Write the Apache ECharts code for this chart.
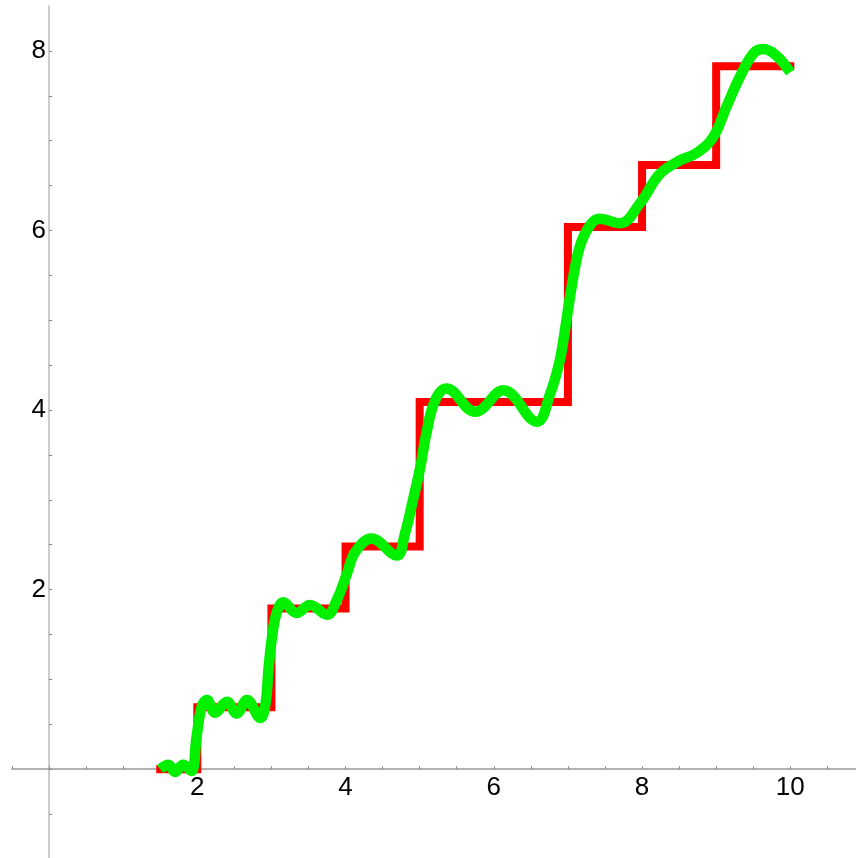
<!DOCTYPE html>
<html>
<head>
<meta charset="utf-8">
<script src="https://cdn.jsdelivr.net/npm/echarts@6/dist/echarts.min.js"></script>
<style>
html,body{margin:0;padding:0;background:#fff;}
#chart{width:856px;height:858px;}
</style>
</head>
<body>
<div id="chart"></div>
<script>
// Step function (red): x where each level starts, and level values
const stepX = [1.5, 2, 3, 4, 5, 7, 8, 9, 10];
const stepY = [0, 0.69, 1.79, 2.48, 4.09, 6.04, 6.73, 7.83, 7.83];

// Smooth approximation (green)
const curveX = [1.50, 1.61, 1.70, 1.81, 1.92, 1.99, 2.06, 2.13, 2.24, 2.40, 2.53, 2.67, 2.85, 2.92, 2.96, 3.01, 3.07, 3.16, 3.34, 3.52, 3.75, 3.88, 4.02, 4.13, 4.35, 4.69, 4.80, 4.91, 5.01, 5.09, 5.21, 5.36, 5.75, 6.13, 6.58, 6.76, 6.89, 6.96, 7.05, 7.16, 7.30, 7.43, 7.70, 7.97, 8.24, 8.51, 8.73, 8.96, 9.14, 9.32, 9.50, 9.63, 9.81, 10.00];
const curveY = [0.00, 0.05, -0.03, 0.05, -0.02, 0.36, 0.70, 0.77, 0.63, 0.75, 0.62, 0.77, 0.57, 0.73, 1.11, 1.48, 1.74, 1.86, 1.74, 1.83, 1.72, 1.88, 2.18, 2.42, 2.57, 2.38, 2.62, 3.00, 3.37, 3.74, 4.11, 4.24, 3.98, 4.22, 3.87, 4.18, 4.55, 4.89, 5.37, 5.82, 6.06, 6.13, 6.08, 6.30, 6.63, 6.78, 6.86, 7.04, 7.38, 7.71, 7.97, 8.02, 7.95, 7.76];

// Axis ranges and labelled ticks
const xRange = [-0.5, 10.9];
const yRange = [-1, 8.5];
const tickStep = 0.5;
const labelEvery = 2;

const stepData = stepX.map((x, i) => [x, stepY[i]]);
const curveData = curveX.map((x, i) => [x, curveY[i]]);

function fmt(v) {
  const r = v / labelEvery;
  if (v !== 0 && Math.abs(r - Math.round(r)) < 1e-9) return String(Math.round(v));
  return '';
}

const chart = echarts.init(document.getElementById('chart'), null, {renderer: 'canvas'});
chart.setOption({
  animation: false,
  backgroundColor: '#ffffff',
  grid: {left: 12, top: 6, width: 845, height: 853, containLabel: false, outerBoundsMode: 'none'},
  xAxis: {
    type: 'value', min: xRange[0], max: xRange[1], interval: tickStep,
    axisLine: {onZero: true, lineStyle: {color: '#999999', width: 1.5}},
    axisTick: {show: true, inside: true, length: 3, lineStyle: {color: '#888888'}},
    splitLine: {show: false},
    axisLabel: {formatter: fmt, color: '#000', fontSize: 26, fontFamily: 'Liberation Sans, Arial, sans-serif', margin: -84, showMaxLabel: false}
  },
  yAxis: {
    type: 'value', min: yRange[0], max: yRange[1], interval: tickStep,
    axisLine: {onZero: true, lineStyle: {color: '#bbbbbb', width: 1.5}},
    axisTick: {show: true, inside: true, length: 3, lineStyle: {color: '#888888'}},
    splitLine: {show: false},
    axisLabel: {formatter: fmt, color: '#000', fontSize: 26, fontFamily: 'Liberation Sans, Arial, sans-serif', margin: -34, showMaxLabel: false}
  },
  series: [
    {
      type: 'line', data: stepData, step: 'end', showSymbol: false, symbol: 'none',
      lineStyle: {color: '#ff0000', width: 8, cap: 'square', join: 'miter'},
      z: 2
    },
    {
      type: 'line', data: curveData, smooth: 0.4, showSymbol: false, symbol: 'none',
      lineStyle: {color: '#00f000', width: 10.5, cap: 'butt', join: 'round'},
      z: 3
    }
  ]
});
</script>
</body>
</html>
